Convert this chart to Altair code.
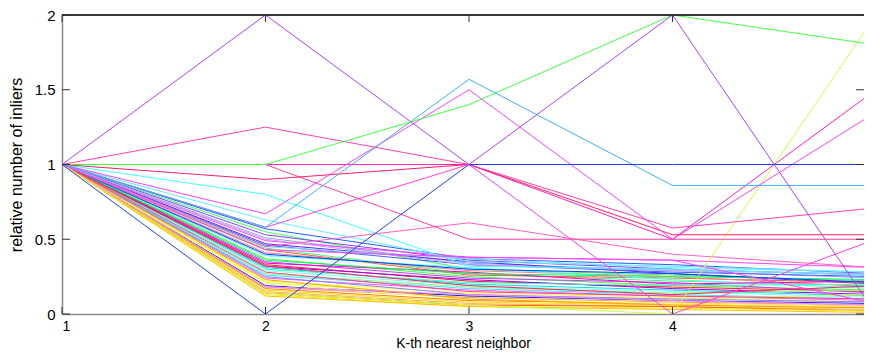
import altair as alt
import pandas as pd

# K-th nearest neighbour index
k_values = [1, 2, 3, 4, 5]

# relative number of inliers, one list per curve (values at K = 1..5)
inliers = [
    [1, 0.57, 0.37, 0.33, 0.27],
    [1, 0.55, 0.30, 0.26, 0.22],
    [1, 0.53, 0.36, 0.30, 0.26],
    [1, 0.51, 0.34, 0.29, 0.24],
    [1, 0.49, 0.38, 0.36, 0.31],
    [1, 0.47, 0.35, 0.27, 0.20],
    [1, 0.46, 0.33, 0.28, 0.25],
    [1, 0.44, 0.27, 0.22, 0.19],
    [1, 0.43, 0.26, 0.24, 0.21],
    [1, 0.41, 0.29, 0.25, 0.18],
    [1, 0.39, 0.31, 0.23, 0.17],
    [1, 0.37, 0.25, 0.19, 0.16],
    [1, 0.35, 0.24, 0.21, 0.14],
    [1, 0.34, 0.28, 0.20, 0.22],
    [1, 0.33, 0.22, 0.18, 0.15],
    [1, 0.32, 0.23, 0.17, 0.13],
    [1, 0.31, 0.20, 0.16, 0.12],
    [1, 0.30, 0.21, 0.19, 0.20],
    [1, 0.29, 0.19, 0.15, 0.11],
    [1, 0.27, 0.18, 0.14, 0.16],
    [1, 0.26, 0.17, 0.13, 0.10],
    [1, 0.24, 0.16, 0.12, 0.09],
    [1, 0.22, 0.14, 0.11, 0.08],
    [1, 0.21, 0.12, 0.10, 0.13],
    [1, 0.19, 0.12, 0.09, 0.07],
    [1, 0.18, 0.11, 0.08, 0.06],
    [1, 0.17, 0.09, 0.07, 0.05],
    [1, 0.16, 0.08, 0.06, 0.04],
    [1, 0.15, 0.07, 0.05, 0.03],
    [1, 0.14, 0.06, 0.05, 0.02],
    [1, 0.13, 0.05, 0.04, 0.02],
    [1, 0.12, 0.05, 0.03, 0.01],
    [1, 0.20, 0.10, 0.07, 0.05],
    [1, 0.25, 0.13, 0.10, 0.08],
    [1, 0.28, 0.15, 0.12, 0.10],
    [1, 0.36, 0.27, 0.25, 0.23],
    [1, 0.40, 0.30, 0.27, 0.21],
    [1, 0.45, 0.37, 0.31, 0.28],
    [1, 0.50, 0.33, 0.29, 0.27],
    [1, 0.32, 0.19, 0.13, 0.19],
    [1, 0.23, 0.10, 0.06, 0.04],
    [1, 0.18, 0.13, 0.09, 0.06],
    [1, 0.80, 0.32, 0.30, 0.26],
    [1, 0.63, 0.35, 0.32, 0.28],
    [1, 0.43, 0.38, 0.36, 0.07],
    [1, 0.45, 0.61, 0.40, 0.31],
    [1, 0.14, 0.06, 0.00, 2.00],
    [1, 0.58, 1.00, 0.00, 0.50],
    [1, 1.00, 0.50, 0.50, 0.50],
    [1, 1.00, 1.00, 0.50, 1.50],
    [1, 0.90, 1.00, 0.53, 0.53],
    [1, 1.25, 1.00, 0.575, 0.71],
    [1, 0.67, 1.50, 0.50, 1.35],
    [1, 0.58, 1.57, 0.86, 0.86],
    [1, 1.00, 1.40, 2.00, 1.80],
    [1, 0.00, 1.00, 1.00, 1.00],
    [1, 2.00, 1.00, 2.00, 0.00],
]

line_colors = [
    "#2060ff", "#40ff60", "#8040ff", "#a0a0ff", "#ff40ff", "#6020ff", "#4060ff",
    "#40ff80", "#ff6040", "#ff8080", "#40ffff", "#40ff40", "#c040ff", "#ff00c0",
    "#ff2020", "#a000ff", "#00e0e0", "#40ffc0", "#80ffff", "#80ff80", "#40e0ff",
    "#ff60ff", "#ffff40", "#e0ff40", "#2020ff", "#ffa040", "#ff8000", "#ffe000",
    "#ffb060", "#ff6000", "#f0f000", "#ffc000", "#ffff80", "#8080ff", "#ff4080",
    "#00ff60", "#0040ff", "#80e0ff", "#c0a0ff", "#ff2060", "#ffa000", "#ff80ff",
    "#40ffff", "#60f0ff", "#ff40ff", "#ff60c0", "#d0ff40", "#ff40e0", "#ff40a0",
    "#ff20c0", "#ff2060", "#ff40b0", "#ff40ff", "#40b0ff", "#40ff40", "#2040ff",
    "#b040ff",
]

x_ticks = [1, 2, 3, 4]
y_ticks = [0, 0.5, 1, 1.5, 2]

rows = []
for i, vals in enumerate(inliers):
    for k, v in zip(k_values, vals):
        rows.append({"series": f"s{i:02d}", "k": k, "value": v})
df = pd.DataFrame(rows)
series_ids = [f"s{i:02d}" for i in range(len(inliers))]

W, H = 802, 299
FONT = "Liberation Sans"
x_scale = alt.Scale(domain=[1, 4.941], nice=False, zero=False)
y_scale = alt.Scale(domain=[0, 2], nice=False, zero=False)

x_axis = alt.Axis(values=x_ticks, ticks=False, grid=False, domainColor="#888888",
                  domainWidth=1.5, labelFont=FONT, labelFontSize=14, labelColor="#000000",
                  labelPadding=5, labelExpr="'' + datum.value",
                  title="K-th nearest neighbor", titleFont=FONT, titleFontSize=14,
                  titleFontWeight="normal", titleColor="#000000",
                  titleBaseline="alphabetic", titleY=33)
y_axis = alt.Axis(values=y_ticks, ticks=False, grid=False, domainColor="#888888",
                  domainWidth=1.5, labelFont=FONT, labelFontSize=15, labelColor="#000000",
                  labelPadding=7, labelExpr="'' + datum.value",
                  title="relative number of inliers", titleFont=FONT, titleFontSize=16,
                  titleFontWeight="normal", titleColor="#000000", titlePadding=10)

lines = alt.Chart(df).mark_line(strokeWidth=1, clip=True).encode(
    x=alt.X("k:Q", scale=x_scale, axis=x_axis),
    y=alt.Y("value:Q", scale=y_scale, axis=y_axis),
    color=alt.Color("series:N", scale=alt.Scale(domain=series_ids, range=line_colors), legend=None),
    order=alt.Order("k:Q"),
)

xt = pd.DataFrame({"k": x_ticks})
yt = pd.DataFrame({"value": y_ticks})
tick_color = "#333333"

bottom_ticks = alt.Chart(xt).mark_rule(color=tick_color, strokeWidth=1).encode(
    x=alt.X("k:Q", scale=x_scale, axis=x_axis), y=alt.value(H - 7), y2=alt.value(H))
top_ticks = alt.Chart(xt).mark_rule(color=tick_color, strokeWidth=1).encode(
    x=alt.X("k:Q", scale=x_scale, axis=x_axis), y=alt.value(0), y2=alt.value(7))
left_ticks = alt.Chart(yt).mark_rule(color=tick_color, strokeWidth=1).encode(
    y=alt.Y("value:Q", scale=y_scale, axis=y_axis), x=alt.value(0), x2=alt.value(8))
right_ticks = alt.Chart(yt).mark_rule(color=tick_color, strokeWidth=1).encode(
    y=alt.Y("value:Q", scale=y_scale, axis=y_axis), x=alt.value(W - 8), x2=alt.value(W))
top_border = alt.Chart(yt).mark_rule(color="#333333", strokeWidth=1).encode(
    x=alt.value(0), x2=alt.value(W), y=alt.value(0))

chart = alt.layer(lines, top_border, bottom_ticks, top_ticks, left_ticks, right_ticks).properties(
    width=W, height=H,
    autosize=alt.AutoSizeParams(type="none"),
    padding={"left": 54, "top": 7, "right": 0, "bottom": 36},
    background="white",
).configure_view(stroke=None)

chart.save("out.html", embed_options={"renderer": "svg", "actions": False})
